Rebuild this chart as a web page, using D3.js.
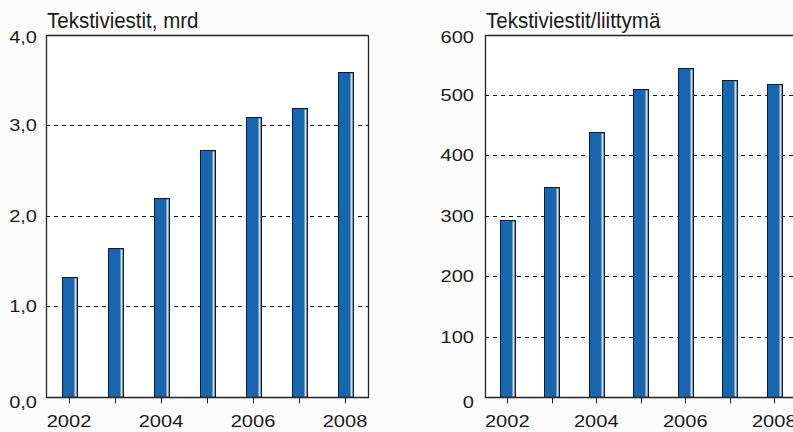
<!DOCTYPE html>
<html><head><meta charset="utf-8">
<script src="https://cdn.jsdelivr.net/npm/d3@7"></script>
<style>
body{margin:0;background:#fcfcfc;}
svg{display:block;font-family:"Liberation Sans",Arial,sans-serif;}
</style></head><body>
<svg id="c" width="793" height="432"></svg>
<script>
const years = [2002, 2003, 2004, 2005, 2006, 2007, 2008];
const yearLabels = ["2002", "", "2004", "", "2006", "", "2008"];
const smsBillions = [1.32, 1.64, 2.2, 2.73, 3.09, 3.19, 3.59];
const smsPerSub = [293, 348, 439, 509, 545, 524, 518];
const leftTicks = [0, 1, 2, 3, 4];
const rightTicks = [0, 100, 200, 300, 400, 500, 600];

const svg = d3.select("#c");
const fmtComma = d => d.toFixed(1).replace(".", ",");
const FS = 17;
const SX = 1.18;

function panel(opts) {
  const {x0, x1, y0, y1, data, max, ticks, fmt, title, bandW, rightBorder, labelRight} = opts;
  const g = svg.append("g");
  const x = d3.scaleBand().domain(years).range([x0, x0 + bandW * years.length]).padding(0);
  const y = d3.scaleLinear().domain([0, max]).range([y1, y0]);
  g.append("rect").attr("x", x0).attr("y", y0).attr("width", x1 - x0).attr("height", y1 - y0)
    .attr("fill", "#fff");
  g.selectAll(".grid").data(ticks.filter(t => t > 0 && t < max)).join("line")
    .attr("x1", x0).attr("x2", x1).attr("y1", d => Math.round(y(d)) + 0.5).attr("y2", d => Math.round(y(d)) + 0.5)
    .attr("stroke", "#111").attr("stroke-dasharray", "4,4");
  const bw = 15;
  const bars = g.selectAll(".bar").data(data).join("g");
  bars.append("rect")
    .attr("x", (d, i) => Math.round(x(years[i]) + x.bandwidth() / 2 - bw / 2) + 0.5)
    .attr("y", d => Math.round(y(d)) + 0.5)
    .attr("width", bw).attr("height", d => Math.round(y1) - Math.round(y(d)))
    .attr("fill", "#1966b0").attr("stroke", "#1a1a1a").attr("stroke-width", 1);
  bars.append("rect")
    .attr("x", (d, i) => Math.round(x(years[i]) + x.bandwidth() / 2 - bw / 2) + bw - 2.5)
    .attr("y", d => Math.round(y(d)) + 1.5)
    .attr("width", 2).attr("height", d => Math.round(y1) - Math.round(y(d)) - 2)
    .attr("fill", "#c9dbef");
  const fx0 = x0 + 0.5, fx1 = x1 + 0.5, fy0 = Math.round(y0) + 0.5, fy1 = Math.round(y1) + 0.5;
  let path = `M${fx1},${fy0}H${fx0}V${fy1}H${fx1}`;
  if (rightBorder) path += `V${fy0}`;
  g.append("path").attr("d", path).attr("fill", "none").attr("stroke", "#222").attr("stroke-width", 1.3);
  g.selectAll(".xt").data(years).join("line")
    .attr("x1", d => Math.round(x(d) + x.bandwidth() / 2) + 0.5).attr("x2", d => Math.round(x(d) + x.bandwidth() / 2) + 0.5)
    .attr("y1", fy1).attr("y2", fy1 + 6).attr("stroke", "#222");
  g.selectAll(".xl").data(years).join("text")
    .attr("transform", d => `translate(${x(d) + x.bandwidth() / 2},427) scale(${SX},1)`)
    .attr("text-anchor", "middle").attr("font-size", FS).attr("fill", "#1a1a1a")
    .text((d, i) => yearLabels[i]);
  g.selectAll(".yl").data(ticks).join("text")
    .attr("transform", (d, i) => `translate(${labelRight},${y(d) + 6 + (i === 0 ? 5 : (i === ticks.length - 1 ? 2.5 : 0))}) scale(${SX},1)`)
    .attr("text-anchor", "end").attr("font-size", FS).attr("fill", "#1a1a1a")
    .text(fmt);
  g.append("text").attr("transform", `translate(${x0 + 1},28) scale(1.14,1.2)`)
    .attr("font-size", 18).attr("fill", "#1a1a1a").text(title);
}

panel({x0: 46, x1: 368, y0: 34.5, y1: 397, data: smsBillions, max: 4, ticks: leftTicks,
  fmt: fmtComma, title: "Tekstiviestit, mrd", bandW: 46, rightBorder: true, labelRight: 37});
panel({x0: 485, x1: 800, y0: 34.5, y1: 397, data: smsPerSub, max: 600, ticks: rightTicks,
  fmt: d => String(d), title: "Tekstiviestit/liittymä", bandW: 44.5, rightBorder: false, labelRight: 474});
</script></body></html>
